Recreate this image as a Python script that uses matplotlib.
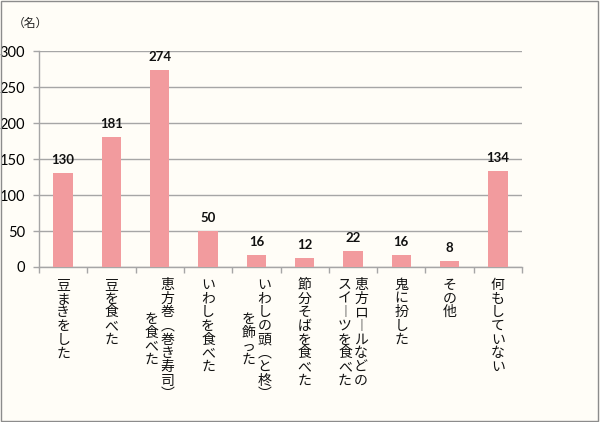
import matplotlib.pyplot as plt
from matplotlib.patches import Rectangle

# データ
labels = [
    ["豆まきをした"],
    ["豆を食べた"],
    ["恵方巻︵巻き寿司︶", "を食べた"],
    ["いわしを食べた"],
    ["いわしの頭︵と柊︶", "を飾った"],
    ["節分そばを食べた"],
    ["恵方ロ︱ルなどの", "スイ︱ツを食べた"],
    ["鬼に扮した"],
    ["その他"],
    ["何もしていない"],
]
values = [130, 181, 274, 50, 16, 12, 22, 16, 8, 134]
yticks = [0, 50, 100, 150, 200, 250, 300]

jp = ["Noto Sans CJK JP", "DejaVu Sans"]
num = ["Lato", "DejaVu Sans"]
bg = "#FFFDF7"
grid_c = "#A6A6A6"
bar_c = "#F29B9E"

fig = plt.figure(figsize=(6, 4.22), dpi=100, facecolor=bg)
fig.patches.append(Rectangle((0.001, 0.002), 0.996, 0.995, transform=fig.transFigure,
                             fill=False, edgecolor="#8C8C8C", lw=1))
ax = fig.add_axes([0.065, 0.3673, 0.805, 0.5117], facecolor=bg)

x = list(range(len(values)))
ax.bar(x, values, width=0.4, color=bar_c, zorder=3)
for xi, v in zip(x, values):
    ax.annotate(str(v), (xi, v), xytext=(0, 7), textcoords="offset pixels",
                ha="center", va="bottom", fontsize=9.5, fontweight="bold",
                family=num, color="#111111")

ax.set_xlim(-0.5, len(values) - 0.5)
ax.set_ylim(0, 300)
ax.set_yticks(yticks)
ax.set_yticklabels([str(t) for t in yticks], family=num, fontsize=10.5)
ax.yaxis.grid(True, color=grid_c, lw=1, zorder=0)
ax.set_xticks([i - 0.5 for i in range(len(values) + 1)])
ax.set_xticklabels([])
ax.tick_params(axis="both", direction="out", length=4, width=1, color=grid_c, pad=6)
for s in ["top", "right"]:
    ax.spines[s].set_visible(False)
for s in ["left", "bottom"]:
    ax.spines[s].set_color(grid_c)
    ax.spines[s].set_linewidth(1)

# 縦書きラベル
step = 13.7
top = 11
col_gap = 16
trans = ax.get_xaxis_transform()
for i, cols in enumerate(labels):
    n = len(cols)
    longest = max(len(c) for c in cols)
    for j, col in enumerate(cols):
        dx = ((n - 1) / 2 - j) * col_gap
        off = (longest - len(col)) * step / 2
        for k, ch in enumerate(col):
            dy = -(top + off + k * step + step / 2)
            ax.annotate(ch, (i, 0), xycoords=trans, xytext=(dx, dy),
                        textcoords="offset pixels", ha="center", va="center",
                        fontsize=10, family=jp, color="#111111",
                        annotation_clip=False)

fig.text(0.021, 0.945, "（名）", family=jp, fontsize=8.5, va="center", color="#222222")

fig.savefig("out.png", dpi=100, facecolor=bg)
